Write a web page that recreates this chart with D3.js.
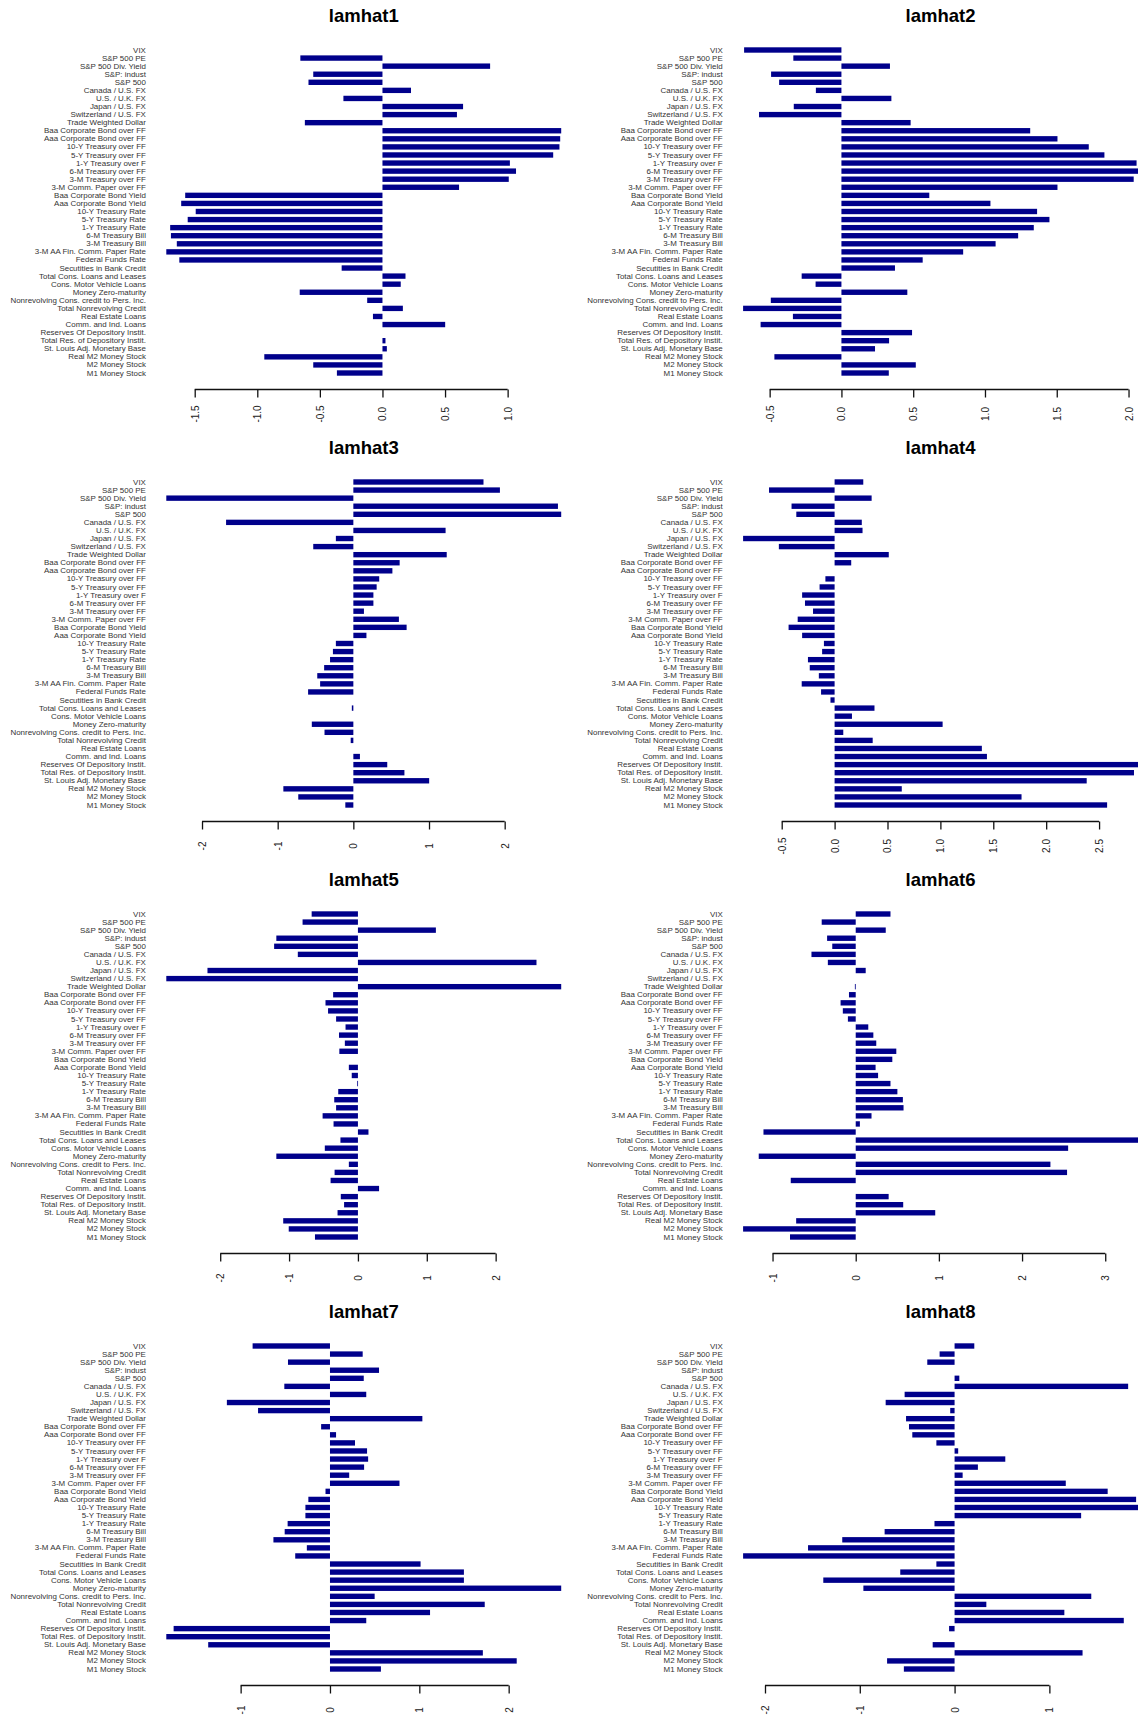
<!DOCTYPE html>
<html>
<head>
<meta charset="utf-8">
<script src="https://cdn.jsdelivr.net/npm/d3@7"></script>
<style>
  html, body { margin: 0; padding: 0; background: #ffffff; }
  svg { display: block; }
</style>
</head>
<body>
<svg id="chart" width="1142" height="1718"></svg>
<script>
const categories = [
  "VIX", "S&P 500 PE", "S&P 500 Div. Yield", "S&P: indust", "S&P 500",
  "Canada / U.S. FX", "U.S. / U.K. FX", "Japan / U.S. FX", "Switzerland / U.S. FX",
  "Trade Weighted Dollar", "Baa Corporate Bond over FF", "Aaa Corporate Bond over FF",
  "10-Y Treasury over FF", "5-Y Treasury over FF", "1-Y Treasury over F",
  "6-M Treasury over FF", "3-M Treasury over FF", "3-M Comm. Paper over FF",
  "Baa Corporate Bond Yield", "Aaa Corporate Bond Yield", "10-Y Treasury Rate",
  "5-Y Treasury Rate", "1-Y Treasury Rate", "6-M Treasury Bill", "3-M Treasury Bill",
  "3-M AA Fin. Comm. Paper Rate", "Federal Funds Rate", "Secutities in Bank Credit",
  "Total Cons. Loans and Leases", "Cons. Motor Vehicle Loans", "Money Zero-maturity",
  "Nonrevolving Cons. credit to Pers. Inc.", "Total Nonrevolving Credit",
  "Real Estate Loans", "Comm. and Ind. Loans", "Reserves Of Depository Instit.",
  "Total Res. of Depository Instit.", "St. Louis Adj. Monetary Base",
  "Real M2 Money Stock", "M2 Money Stock", "M1 Money Stock"
];

const titles = ["lamhat1", "lamhat2", "lamhat3", "lamhat4", "lamhat5", "lamhat6", "lamhat7", "lamhat8"];

const lamhat1 = [0, -0.656, 0.86, -0.553, -0.591, 0.228, -0.312, 0.644, 0.595, -0.62,
  1.428, 1.42, 1.414, 1.364, 1.018, 1.067, 1.009, 0.612, -1.576, -1.608, -1.492,
  -1.556, -1.696, -1.69, -1.643, -1.727, -1.623, -0.326, 0.184, 0.146, -0.661,
  -0.122, 0.163, -0.076, 0.501, 0, 0.024, 0.035, -0.944, -0.553, -0.364];

const lamhat2 = [-0.678, -0.335, 0.338, -0.49, -0.434, -0.178, 0.348, -0.332, -0.574, 0.482,
  1.315, 1.505, 1.723, 1.832, 2.056, 2.066, 2.036, 1.505, 0.612, 1.038, 1.363,
  1.449, 1.34, 1.231, 1.074, 0.848, 0.566, 0.373, -0.277, -0.18, 0.459,
  -0.492, -0.685, -0.338, -0.563, 0.492, 0.332, 0.234, -0.467, 0.518, 0.33];

const lamhat3 = [1.72, 1.937, -2.472, 2.704, 2.747, -1.682, 1.219, -0.231, -0.53, 1.234,
  0.612, 0.516, 0.342, 0.308, 0.265, 0.265, 0.14, 0.602, 0.704, 0.173, -0.231,
  -0.27, -0.308, -0.386, -0.477, -0.439, -0.598, 0, -0.02, 0, -0.549,
  -0.381, -0.035, 0, 0.087, 0.448, 0.675, 1.002, -0.925, -0.728, -0.106];

const lamhat4 = [0.271, -0.62, 0.35, -0.407, -0.362, 0.257, 0.264, -0.865, -0.527, 0.512,
  0.157, 0, -0.087, -0.142, -0.307, -0.28, -0.204, -0.349, -0.435, -0.307, -0.101,
  -0.118, -0.252, -0.235, -0.149, -0.311, -0.128, -0.039, 0.377, 0.164, 1.021,
  0.082, 0.36, 1.392, 1.44, 2.868, 2.83, 2.383, 0.635, 1.767, 2.576];

const lamhat5 = [-0.672, -0.804, 1.132, -1.185, -1.217, -0.873, 2.593, -2.185, -2.783, 2.952,
  -0.36, -0.471, -0.434, -0.317, -0.18, -0.275, -0.19, -0.27, 0, -0.132, -0.09,
  -0.01, -0.286, -0.344, -0.317, -0.513, -0.354, 0.153, -0.254, -0.481, -1.185,
  -0.132, -0.339, -0.397, 0.307, -0.249, -0.201, -0.296, -1.085, -1.005, -0.624];

const lamhat6 = [0.418, -0.409, 0.361, -0.344, -0.282, -0.532, -0.335, 0.12, 0, -0.01,
  -0.081, -0.182, -0.155, -0.094, 0.151, 0.212, 0.247, 0.488, 0.44, 0.239, 0.269,
  0.418, 0.501, 0.567, 0.575, 0.19, 0.05, -1.109, 3.394, 2.554, -1.166,
  2.341, 2.541, -0.781, 0, 0.396, 0.571, 0.956, -0.716, -1.354, -0.79];

const lamhat7 = [-0.866, 0.366, -0.47, 0.549, 0.378, -0.511, 0.406, -1.154, -0.805, 1.034,
  -0.099, 0.068, 0.28, 0.415, 0.427, 0.382, 0.215, 0.778, -0.05, -0.242, -0.275,
  -0.275, -0.474, -0.507, -0.633, -0.259, -0.389, 1.014, 1.499, 1.499, 2.588,
  0.5, 1.732, 1.12, 0.406, -1.75, -1.832, -1.363, 1.711, 2.09, 0.57];

const lamhat8 = [0.208, -0.158, -0.288, 0, 0.05, 1.831, -0.527, -0.727, -0.046, -0.512,
  -0.481, -0.446, -0.192, 0.038, 0.535, 0.246, 0.085, 1.173, 1.615, 1.915, 1.935,
  1.335, -0.212, -0.738, -1.185, -1.546, -2.231, -0.192, -0.573, -1.385, -0.962,
  1.442, 0.335, 1.158, 1.785, -0.058, 0, -0.231, 1.35, -0.712, -0.535];

const tickLabels1 = ["-1.5", "-1.0", "-0.5", "0.0", "0.5", "1.0"];
const tickLabels2 = ["-0.5", "0.0", "0.5", "1.0", "1.5", "2.0"];
const tickLabels3 = ["-2", "-1", "0", "1", "2"];
const tickLabels4 = ["-0.5", "0.0", "0.5", "1.0", "1.5", "2.0", "2.5"];
const tickLabels5 = ["-2", "-1", "0", "1", "2"];
const tickLabels6 = ["-1", "0", "1", "2", "3"];
const tickLabels7 = ["-1", "0", "1", "2"];
const tickLabels8 = ["-2", "-1", "0", "1"];

const seriesList = [lamhat1, lamhat2, lamhat3, lamhat4, lamhat5, lamhat6, lamhat7, lamhat8];
const tickList = [tickLabels1, tickLabels2, tickLabels3, tickLabels4, tickLabels5, tickLabels6, tickLabels7, tickLabels8];

const svg = d3.select("#chart");
svg.append("rect").attr("width", 1142).attr("height", 1718).attr("fill", "#ffffff");

const FONT = "'Liberation Sans', Arial, Helvetica, sans-serif";
const BAR = "#00008b";
const panelW = 571, panelH = 432;
const regionW = 426.5;
const axisY = 389.5;

const y = d3.scaleBand()
  .domain(categories)
  .range([45.96, 45.96 + 41 * 8.075])
  .paddingInner(1 / 3)
  .paddingOuter(1 / 6);

seriesList.forEach((vals, i) => {
  const col = i % 2, row = Math.floor(i / 2);
  const g = svg.append("g").attr("transform", `translate(${col * panelW},${row * panelH})`);
  const L = col ? 156.3 : 150.5;
  const lo = Math.min(0, d3.min(vals)), hi = Math.max(0, d3.max(vals));
  const pad = 0.04 * (hi - lo);
  const x = d3.scaleLinear().domain([lo - pad, hi + pad]).range([L, L + regionW]);

  // title
  g.append("text")
    .attr("x", L + regionW / 2)
    .attr("y", 21.5)
    .attr("text-anchor", "middle")
    .attr("font-family", FONT)
    .attr("font-weight", "bold")
    .attr("font-size", 18.5)
    .attr("fill", "#000")
    .text(titles[i]);

  // category labels
  const yAxis = g.append("g")
    .attr("transform", `translate(${L},0)`)
    .call(d3.axisLeft(y).tickSize(0).tickPadding(4.6));
  yAxis.select(".domain").remove();
  yAxis.selectAll("text")
    .attr("font-family", FONT)
    .attr("font-size", 7.95)
    .attr("fill", "#333");

  // bars
  g.append("g").selectAll("rect")
    .data(vals.map((v, k) => ({ v, c: categories[k] })).filter(d => d.v !== 0))
    .join("rect")
    .attr("x", d => x(Math.min(0, d.v)))
    .attr("width", d => Math.max(0.8, Math.abs(x(d.v) - x(0))))
    .attr("y", d => y(d.c))
    .attr("height", y.bandwidth())
    .attr("fill", BAR);

  // x axis
  const labs = tickList[i];
  const tv = labs.map(Number);
  const xAxis = g.append("g")
    .attr("transform", `translate(0,${axisY})`)
    .call(d3.axisBottom(x).tickValues(tv).tickFormat((d, k) => labs[k]).tickSize(8).tickSizeOuter(0));
  xAxis.select(".domain").remove();
  xAxis.append("line")
    .attr("x1", x(tv[0])).attr("x2", x(tv[tv.length - 1]))
    .attr("y1", 0).attr("y2", 0)
    .attr("stroke", "#111").attr("stroke-width", 1.3);
  xAxis.selectAll(".tick line").attr("stroke", "#111").attr("stroke-width", 1.3);
  xAxis.selectAll(".tick text")
    .attr("x", 0).attr("y", 0).attr("dy", "0.35em")
    .attr("transform", "translate(0,24.5) rotate(-90)")
    .attr("text-anchor", "middle")
    .attr("font-family", FONT)
    .attr("font-size", 10)
    .attr("fill", "#222");
});
</script>
</body>
</html>
